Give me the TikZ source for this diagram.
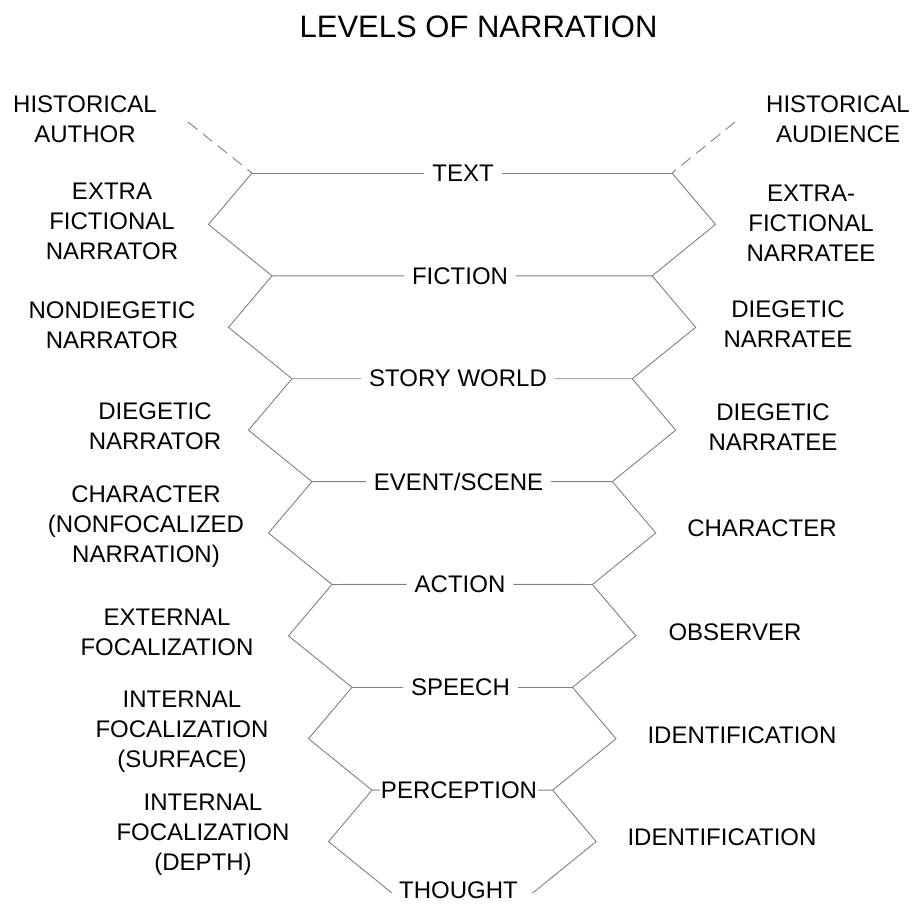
\documentclass[tikz,border=0pt]{standalone}
\usepackage{fontspec}
\setmainfont{Liberation Sans}
\begin{document}
\begin{tikzpicture}[x=1pt,y=-1pt,
  conn/.style={draw=black!50, line width=0.9pt},
  lvl/.style={font=\fontsize{24}{30}\selectfont, text=black, inner xsep=8pt, inner ysep=2pt, outer sep=0pt},
  side/.style={font=\fontsize{24}{30}\selectfont, text=black, align=center, inner sep=0pt},
  ttl/.style={font=\fontsize{31}{36}\selectfont, text=black}]
\useasboundingbox (0,0) rectangle (912,903);

% corners and vertices
\foreach \k in {0,...,7} {
  \coordinate (L\k) at ({252+20*\k}, {173+102.86*\k});
  \coordinate (R\k) at ({672-19.9*\k}, {173+102.86*\k});
}
\foreach \k in {0,...,6} {
  \coordinate (VL\k) at ({252+20*\k-43.5}, {173+102.86*\k+51.43});
  \coordinate (VR\k) at ({672-19.9*\k+43.5}, {173+102.86*\k+51.43});
}
\coordinate (DL) at (188,122);
\coordinate (DR) at (735,122);

% title
\node[ttl] (title) at (478.5,27) {LEVELS OF NARRATION};

% level labels
\node[lvl] (C0) at (463,173) {TEXT};
\node[lvl] (C1) at (460,275.9) {FICTION};
\node[lvl] (C2) at (458,378.7) {STORY WORLD};
\node[lvl] (C3) at (458.5,481.6) {EVENT/SCENE};
\node[lvl] (C4) at (460,584.4) {ACTION};
\node[lvl] (C5) at (460.5,687.3) {SPEECH};
\node[lvl, inner xsep=1pt] (C6) at (459,790.2) {PERCEPTION};
\node[lvl] (C7) at (458.5,890.5) {THOUGHT};

% horizontal connectors
\foreach \k in {0,...,6} {
  \draw[conn] (L\k) -- (C\k);
  \draw[conn] (C\k) -- (R\k);
}
% zigzags
\foreach \k [count=\n from 1] in {0,...,6} {
  \draw[conn, line join=miter] (L\k) -- (VL\k) -- (L\n);
  \draw[conn, line join=miter] (R\k) -- (VR\k) -- (R\n);
}
% dashed extensions
\draw[conn, dash pattern=on 12pt off 7pt] (DL) -- (L0);
\draw[conn, dash pattern=on 12pt off 7pt] (DR) -- (R0);

% left labels
\node[side] (a1) at (85,119) {HISTORICAL\\AUTHOR};
\node[side] (a2) at (112,221) {EXTRA\\FICTIONAL\\NARRATOR};
\node[side] (a3) at (112,325) {NONDIEGETIC\\NARRATOR};
\node[side] (a4) at (155,426) {DIEGETIC\\NARRATOR};
\node[side] (a5) at (146,527) {CHARACTER\\(NONFOCALIZED\\NARRATION)};
\node[side] (a6) at (167,632) {EXTERNAL\\FOCALIZATION};
\node[side] (a7) at (182,732) {INTERNAL\\FOCALIZATION\\(SURFACE)};
\node[side] (a8) at (203,835) {INTERNAL\\FOCALIZATION\\(DEPTH)};

% right labels
\node[side] (b1) at (838,119) {HISTORICAL\\AUDIENCE};
\node[side] (b2) at (811,223) {EXTRA-\\FICTIONAL\\NARRATEE};
\node[side] (b3) at (788,324) {DIEGETIC\\NARRATEE};
\node[side] (b4) at (773,427) {DIEGETIC\\NARRATEE};
\node[side] (b5) at (762,528) {CHARACTER};
\node[side] (b6) at (735,632) {OBSERVER};
\node[side] (b7) at (742,735) {IDENTIFICATION};
\node[side] (b8) at (722,837) {IDENTIFICATION};
\end{tikzpicture}
\end{document}
